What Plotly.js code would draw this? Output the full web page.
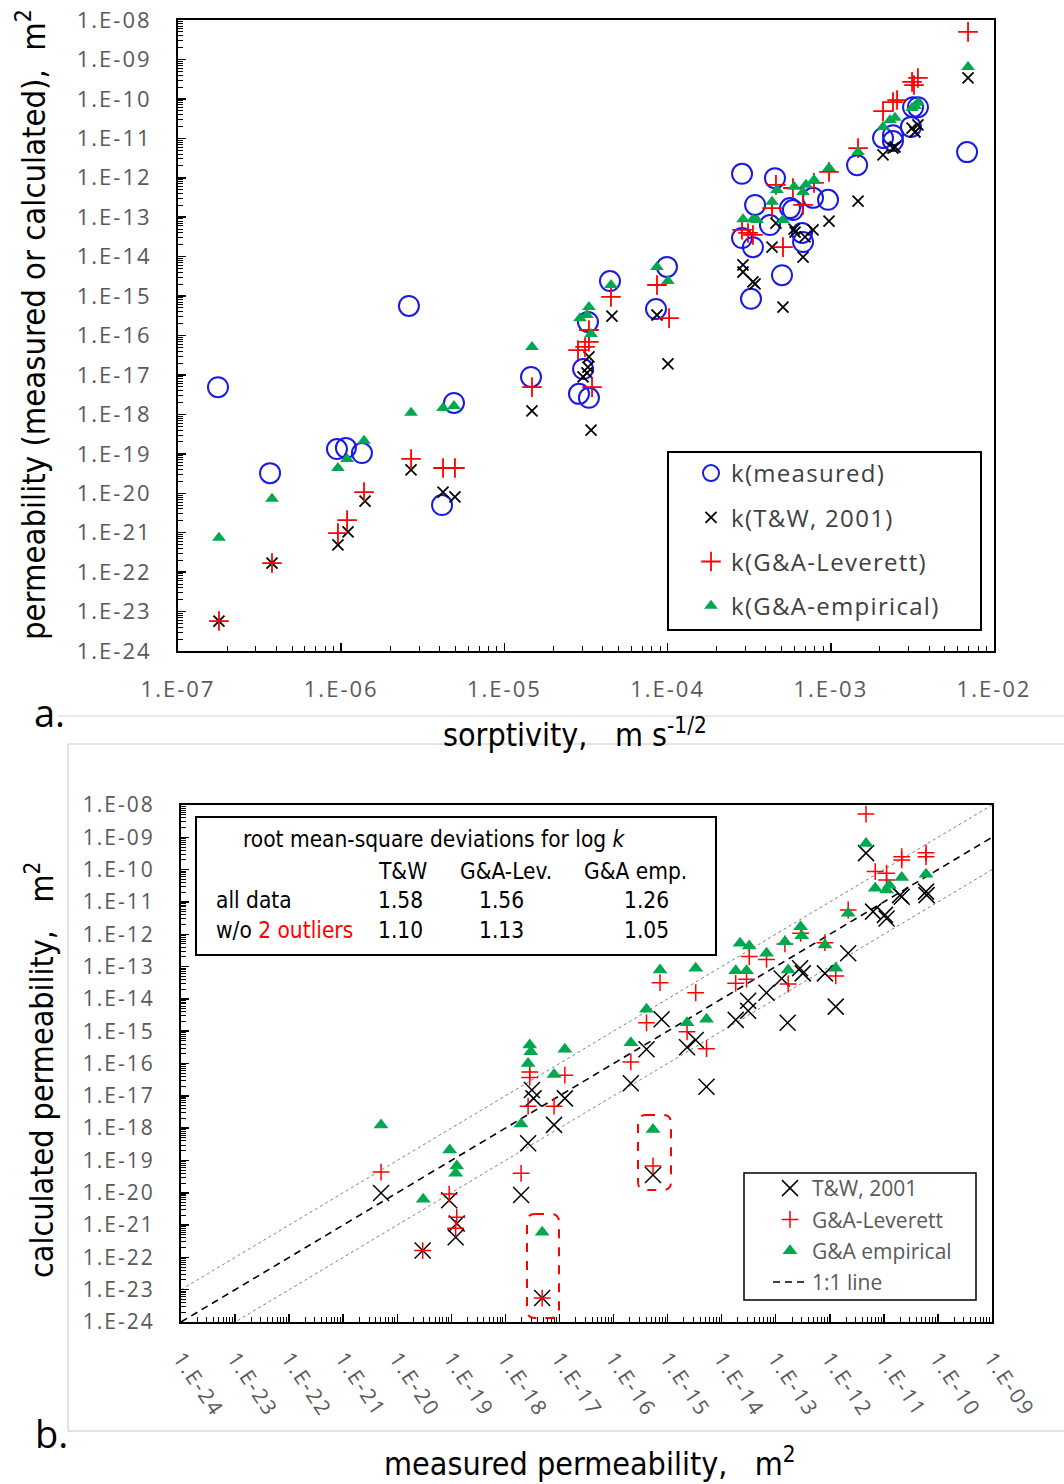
<!DOCTYPE html>
<html>
<head>
<meta charset="utf-8">
<script src="https://cdn.plot.ly/plotly-3.0.1.min.js"></script>
<style>
  html, body { margin: 0; padding: 0; background: #fff; }
  #chart { width: 1064px; height: 1484px; }
  g.xtick text, g.ytick text, g.x2tick text, g.y2tick text { letter-spacing: 2px; }
  .legendtext { letter-spacing: 1.3px; }
</style>
</head>
<body>
<div id="chart"></div>
<script>
// ---------------- DATA (values stored as log10) ----------------
// Panel a: sorptivity (m s^-1/2) vs permeability (m^2)
const aMeasLogS = [-6.755,-6.436,-6.026,-5.971,-5.873,-5.585,-5.309,-5.382,-4.837,-4.518,-4.543,-4.482,-4.488,-4.353,-4.071,-4.004,-3.544,-3.342,-3.464,-3.232,-3.109,-3.017,-2.839,-3.373,-3.544,-3.477,-3.176,-3.170,-3.299,-3.489,-2.165,-2.680,-2.619,-2.509,-2.496,-2.466,-3.250,-2.619];
const aMeasLogK = [-17.31,-19.49,-18.88,-18.85,-18.98,-15.25,-17.71,-20.30,-17.05,-16.85,-17.48,-17.58,-15.66,-14.62,-15.33,-14.26,-11.90,-12.01,-12.69,-12.82,-12.51,-12.56,-11.68,-13.20,-13.53,-13.76,-13.40,-13.63,-14.47,-15.07,-11.35,-10.99,-11.07,-10.71,-10.21,-10.21,-12.77,-10.92];

const aTWLogS = [-6.749,-6.424,-6.020,-5.958,-5.854,-5.572,-5.376,-5.303,-4.831,-4.482,-4.488,-4.518,-4.494,-4.469,-4.341,-4.065,-3.998,-3.538,-3.538,-3.477,-3.464,-3.360,-3.336,-3.225,-3.219,-3.158,-3.109,-3.011,-3.170,-3.293,-2.833,-2.159,-2.680,-2.619,-2.607,-2.502,-2.484,-2.466];
const aTWLogK = [-23.24,-21.77,-21.31,-20.98,-20.20,-19.41,-19.97,-20.09,-17.91,-16.54,-16.80,-17.05,-16.95,-18.40,-15.51,-15.48,-16.72,-14.21,-14.39,-14.64,-14.69,-13.76,-13.15,-13.30,-13.38,-13.50,-13.32,-13.10,-14.01,-15.28,-12.59,-9.47,-11.42,-11.25,-11.22,-10.74,-10.84,-10.66];

const aGALLogS = [-6.749,-6.424,-6.020,-5.964,-5.860,-5.572,-5.376,-5.303,-4.831,-4.549,-4.506,-4.482,-4.482,-4.463,-4.347,-4.065,-3.991,-3.544,-3.477,-3.507,-3.336,-3.360,-3.293,-3.170,-3.232,-3.103,-3.011,-2.833,-2.159,-2.502,-2.466,-2.490,-2.619,-2.594,-2.680];
const aGALLogK = [-23.24,-21.77,-21.01,-20.68,-19.97,-19.13,-19.36,-19.36,-17.31,-16.37,-16.29,-16.16,-15.86,-17.31,-15.02,-14.72,-15.56,-13.32,-13.45,-13.40,-12.18,-12.77,-13.76,-12.69,-12.26,-12.13,-11.85,-11.25,-8.30,-9.57,-9.47,-9.65,-10.08,-10.03,-10.31];

const aGAELogS = [-6.749,-6.424,-6.020,-5.964,-5.860,-5.572,-5.376,-5.309,-4.831,-4.537,-4.494,-4.482,-4.469,-4.347,-4.065,-3.998,-3.538,-3.477,-3.452,-3.360,-3.330,-3.293,-3.225,-3.170,-3.152,-3.103,-3.011,-2.833,-2.159,-2.502,-2.466,-2.484,-2.607,-2.637,-2.680];
const aGAELogK = [-21.13,-20.14,-19.36,-19.13,-18.67,-17.96,-17.84,-17.79,-16.29,-15.56,-15.48,-15.28,-15.96,-14.72,-14.26,-14.62,-13.05,-13.05,-13.07,-12.61,-12.31,-13.07,-12.23,-12.36,-12.18,-12.06,-11.75,-11.35,-9.19,-10.23,-10.10,-10.18,-10.48,-10.54,-10.71];

// Panel b: measured vs calculated permeability (m^2)
const bTWLogX = [-20.30,-19.53,-19.04,-18.90,-18.92,-17.71,-17.58,-17.51,-17.48,-17.10,-16.90,-17.32,-15.11,-14.28,-15.39,-15.68,-14.64,-14.48,-15.27,-13.74,-13.51,-13.51,-13.17,-12.78,-12.89,-12.55,-12.50,-12.09,-11.66,-11.89,-11.33,-11.20,-10.98,-10.95,-10.67,-10.70,-10.22,-10.21];
const bTWLogY = [-20.01,-21.79,-20.23,-20.95,-21.38,-20.07,-18.47,-16.82,-17.08,-17.90,-17.08,-23.26,-14.63,-16.72,-15.56,-16.61,-15.50,-15.27,-19.45,-14.65,-14.06,-14.37,-13.81,-14.74,-13.37,-13.05,-13.21,-13.21,-12.59,-14.24,-9.49,-11.30,-11.40,-11.51,-10.84,-10.79,-10.68,-10.79];

const bGALLogX = [-20.30,-19.53,-19.04,-18.90,-18.92,-17.71,-17.58,-17.55,-17.55,-17.10,-16.90,-17.32,-15.14,-14.48,-15.39,-15.68,-14.64,-14.28,-15.27,-13.74,-13.54,-13.49,-13.17,-12.77,-11.89,-11.33,-11.16,-10.95,-10.95,-10.67,-10.67,-10.22,-10.22,-11.66,-12.54,-12.83,-12.09];
const bGALLogY = [-19.36,-21.79,-20.04,-20.76,-21.10,-19.40,-17.32,-16.26,-16.43,-17.32,-16.36,-23.26,-13.50,-13.81,-14.74,-15.95,-15.02,-15.54,-19.17,-13.52,-13.39,-12.69,-12.78,-13.54,-13.29,-8.28,-10.06,-10.11,-10.32,-9.60,-9.70,-9.48,-9.60,-11.25,-11.97,-12.30,-12.26];

const bGAELogX = [-20.30,-19.52,-19.03,-18.90,-18.92,-17.71,-17.58,-17.55,-17.53,-17.10,-16.90,-17.32,-15.14,-14.48,-15.39,-15.68,-14.64,-14.28,-15.27,-13.74,-13.54,-13.66,-13.49,-13.17,-12.77,-11.33,-11.16,-10.95,-10.90,-10.67,-10.22,-11.66,-12.54,-12.52,-12.83,-12.09,-11.89];
const bGAELogY = [-17.90,-20.20,-18.68,-19.17,-19.40,-17.87,-16.00,-15.43,-15.64,-16.34,-15.56,-21.22,-13.11,-13.05,-14.32,-15.36,-14.74,-14.63,-18.04,-13.13,-13.13,-12.28,-12.36,-12.59,-13.11,-9.19,-10.58,-10.63,-10.48,-10.24,-10.14,-11.35,-11.77,-12.05,-12.23,-12.33,-13.05];

// 1:1 reference line ends and +/- one decade bands
const refLineX = [1e-24, 1e-9];
const bandFactor = 10;

// Tick labels
const aXTickVals = [1e-7, 1e-6, 1e-5, 1e-4, 1e-3, 1e-2];
const aXTickText = ["1.E-07","1.E-06","1.E-05","1.E-04","1.E-03","1.E-02"];
const kTickVals = [1e-8,1e-9,1e-10,1e-11,1e-12,1e-13,1e-14,1e-15,1e-16,1e-17,1e-18,1e-19,1e-20,1e-21,1e-22,1e-23,1e-24];
const kTickText = ["1.E-08","1.E-09","1.E-10","1.E-11","1.E-12","1.E-13","1.E-14","1.E-15","1.E-16","1.E-17","1.E-18","1.E-19","1.E-20","1.E-21","1.E-22","1.E-23","1.E-24"];
const bXTickVals = [1e-24,1e-23,1e-22,1e-21,1e-20,1e-19,1e-18,1e-17,1e-16,1e-15,1e-14,1e-13,1e-12,1e-11,1e-10,1e-9];
const bXTickText = ["1.E-24","1.E-23","1.E-22","1.E-21","1.E-20","1.E-19","1.E-18","1.E-17","1.E-16","1.E-15","1.E-14","1.E-13","1.E-12","1.E-11","1.E-10","1.E-09"];

// RMS deviation table
const rmsTitle = "root mean-square deviations for log <i>k</i>";
const rmsHeaders = ["T&W", "G&A-Lev.", "G&A emp."];
const rmsRowLabels = ["all data", "w/o <span style='color:#ff0000'>2 outliers</span>"];
const rmsAll = ["1.58", "1.56", "1.26"];
const rmsNoOutliers = ["1.10", "1.13", "1.05"];

// ---------------- LAYOUT HELPERS ----------------
const W = 1064, H = 1484;
const px = x => x / W;
const py = y => 1 - y / H;
const pow10 = arr => arr.map(v => Math.pow(10, v));

const BLUE = '#1a1ae6', RED = '#ff0000', GREEN = '#00a84f', BLACK = '#000000';
const TICKFONT = {family: 'Open Sans, DejaVu Sans, sans-serif', size: 22, color: '#595959'};
const NARROW = "'Liberation Sans Narrow', 'DejaVu Sans Condensed', 'Open Sans', sans-serif";
const titleFont = s => ({family: NARROW, size: s, color: '#000'});

function logAxis(domain, range, anchor, tickvals, ticktext, extra) {
  return Object.assign({
    type: 'log', domain: domain, range: range, anchor: anchor,
    tickmode: 'array', tickvals: tickvals, ticktext: ticktext,
    ticks: 'inside', ticklen: 8, tickwidth: 1.5, tickcolor: BLACK,
    minor: {ticks: 'inside', ticklen: 5, tickwidth: 1, tickcolor: BLACK, dtick: 'D1', showgrid: false},
    showline: true, linecolor: BLACK, linewidth: 2, mirror: true,
    showgrid: false, zeroline: false, tickfont: TICKFONT, automargin: false
  }, extra || {});
}

function roundedRect(x0, y0, x1, y1, r) {
  const X = v => px(v), Y = v => py(v);
  return 'M' + X(x0 + r) + ',' + Y(y0) +
    ' L' + X(x1 - r) + ',' + Y(y0) + ' Q' + X(x1) + ',' + Y(y0) + ' ' + X(x1) + ',' + Y(y0 + r) +
    ' L' + X(x1) + ',' + Y(y1 - r) + ' Q' + X(x1) + ',' + Y(y1) + ' ' + X(x1 - r) + ',' + Y(y1) +
    ' L' + X(x0 + r) + ',' + Y(y1) + ' Q' + X(x0) + ',' + Y(y1) + ' ' + X(x0) + ',' + Y(y1 - r) +
    ' L' + X(x0) + ',' + Y(y0 + r) + ' Q' + X(x0) + ',' + Y(y0) + ' ' + X(x0 + r) + ',' + Y(y0) + ' Z';
}

// ---------------- TRACES ----------------
const traces = [
  // panel a
  {type: 'scatter', mode: 'markers', name: 'k(measured)', x: pow10(aMeasLogS), y: pow10(aMeasLogK),
   xaxis: 'x', yaxis: 'y', legend: 'legend', legendgroup: 'a1',
   marker: {symbol: 'circle-open', size: 20, color: BLUE, line: {width: 2, color: BLUE}}},
  {type: 'scatter', mode: 'markers', name: 'k(T&W, 2001)', x: pow10(aTWLogS), y: pow10(aTWLogK),
   xaxis: 'x', yaxis: 'y', legend: 'legend', legendgroup: 'a2',
   marker: {symbol: 'x-thin', size: 11, color: BLACK, line: {width: 1.8, color: BLACK}}},
  {type: 'scatter', mode: 'markers', name: 'k(G&A-Leverett)', x: pow10(aGALLogS), y: pow10(aGALLogK),
   xaxis: 'x', yaxis: 'y', legend: 'legend', legendgroup: 'a3',
   marker: {symbol: 'cross-thin', size: 14, color: RED, line: {width: 1.8, color: RED}}},
  {type: 'scatter', mode: 'markers', name: 'k(G&A-empirical)', x: pow10(aGAELogS), y: pow10(aGAELogK),
   xaxis: 'x', yaxis: 'y', legend: 'legend', legendgroup: 'a4',
   marker: {symbol: 'triangle-up', size: 12, color: GREEN, line: {width: 0}}},

  // panel b reference lines
  {type: 'scatter', mode: 'lines', name: 'upper band', x: refLineX, y: refLineX.map(v => v * bandFactor),
   xaxis: 'x2', yaxis: 'y2', showlegend: false, line: {color: '#808080', width: 1, dash: 'dot'}},
  {type: 'scatter', mode: 'lines', name: 'lower band', x: refLineX, y: refLineX.map(v => v / bandFactor),
   xaxis: 'x2', yaxis: 'y2', showlegend: false, line: {color: '#808080', width: 1, dash: 'dot'}},
  {type: 'scatter', mode: 'lines', name: '1:1 line', x: refLineX, y: refLineX,
   xaxis: 'x2', yaxis: 'y2', legend: 'legend2', legendgroup: 'b4', legendrank: 4,
   line: {color: BLACK, width: 1.6, dash: '7px,5px'}},

  // panel b markers
  {type: 'scatter', mode: 'markers', name: 'T&W, 2001', x: pow10(bTWLogX), y: pow10(bTWLogY),
   xaxis: 'x2', yaxis: 'y2', legend: 'legend2', legendgroup: 'b1', legendrank: 1,
   marker: {symbol: 'x-thin', size: 16, color: BLACK, line: {width: 1.5, color: BLACK}}},
  {type: 'scatter', mode: 'markers', name: 'G&A-Leverett', x: pow10(bGALLogX), y: pow10(bGALLogY),
   xaxis: 'x2', yaxis: 'y2', legend: 'legend2', legendgroup: 'b2', legendrank: 2,
   marker: {symbol: 'cross-thin', size: 12, color: RED, line: {width: 1.5, color: RED}}},
  {type: 'scatter', mode: 'markers', name: 'G&A empirical', x: pow10(bGAELogX), y: pow10(bGAELogY),
   xaxis: 'x2', yaxis: 'y2', legend: 'legend2', legendgroup: 'b3', legendrank: 3,
   marker: {symbol: 'triangle-up', size: 13, color: GREEN, line: {width: 0}}}
];

// ---------------- ANNOTATIONS ----------------
const ann = [];
function txt(text, x, y, opts) {
  ann.push(Object.assign({text: text, x: px(x), y: py(y), xref: 'paper', yref: 'paper',
    showarrow: false, xanchor: 'left', yanchor: 'middle'}, opts || {}));
}
// axis titles
txt('permeability (measured or calculated),  m<sup>2</sup>', 32, 325, {xanchor: 'center', textangle: -90, font: titleFont(32.5)});
txt('sorptivity,   m s<sup>-1/2</sup>', 575, 733, {xanchor: 'center', font: titleFont(32)});
txt('calculated permeability,   m<sup>2</sup>', 40, 1070, {xanchor: 'center', textangle: -90, font: titleFont(32)});
txt('measured permeability,   m<sup>2</sup>', 590, 1462, {xanchor: 'center', font: titleFont(32)});
// panel labels
txt('a.', 49, 712, {xanchor: 'center', font: {family: 'Open Sans, sans-serif', size: 38, color: '#000'}});
txt('b.', 51, 1433, {xanchor: 'center', font: {family: 'Open Sans, sans-serif', size: 38, color: '#000'}});
// table
const TF = {family: NARROW, size: 22.5, color: '#000'};
txt(rmsTitle, 241, 839, {font: TF});
const colX = [376, 458, 582];
const valX = [376, 477, 622];
rmsHeaders.forEach((h, i) => txt(h, colX[i], 871, {font: TF}));
txt(rmsRowLabels[0], 214, 900, {font: TF});
txt(rmsRowLabels[1], 214, 930, {font: TF});
rmsAll.forEach((v, i) => txt(v, valX[i], 900, {font: TF}));
rmsNoOutliers.forEach((v, i) => txt(v, valX[i], 930, {font: TF}));

// ---------------- SHAPES ----------------
const shapes = [
  // light gray frames of the figure panels
  {type: 'line', xref: 'paper', yref: 'paper', x0: px(58), x1: px(1064), y0: py(716), y1: py(716), line: {color: '#d4d4d4', width: 1}},
  {type: 'rect', xref: 'paper', yref: 'paper', x0: px(68), x1: px(1070), y0: py(744), y1: py(1431), line: {color: '#c8c8c8', width: 1}},
  // legend boxes and table box
  {type: 'rect', xref: 'paper', yref: 'paper', x0: px(668), x1: px(981), y0: py(452), y1: py(630), line: {color: BLACK, width: 2}, fillcolor: '#fff', layer: 'below'},
  {type: 'rect', xref: 'paper', yref: 'paper', x0: px(744), x1: px(976), y0: py(1173), y1: py(1300), line: {color: BLACK, width: 1.5}, fillcolor: '#fff', layer: 'below'},
  {type: 'rect', xref: 'paper', yref: 'paper', x0: px(196), x1: px(716), y0: py(817), y1: py(955), line: {color: BLACK, width: 2}, fillcolor: '#fff', layer: 'below'},
  // outlier highlight boxes
  {type: 'path', xref: 'paper', yref: 'paper', path: roundedRect(527, 1214, 559, 1318, 8), line: {color: RED, width: 2, dash: 'dash'}},
  {type: 'path', xref: 'paper', yref: 'paper', path: roundedRect(638, 1115, 671, 1190, 8), line: {color: RED, width: 2, dash: 'dash'}}
];

// ---------------- LAYOUT ----------------
const layout = {
  width: W, height: H, autosize: false,
  margin: {l: 0, r: 0, t: 0, b: 0, pad: 0},
  paper_bgcolor: '#ffffff', plot_bgcolor: 'rgba(0,0,0,0)',
  showlegend: true,
  xaxis: logAxis([px(178), px(994)], [-7, -2], 'y', aXTickVals, aXTickText, {ticklabelstandoff: 18}),
  yaxis: logAxis([py(651), py(20)], [-24, -8], 'x', kTickVals, kTickText, {ticklabelstandoff: 20}),
  xaxis2: logAxis([px(181), px(992)], [-24, -9], 'y2', bXTickVals, bXTickText, {tickangle: 56, ticklabelstandoff: 14, tickfont: Object.assign({}, TICKFONT, {size: 21})}),
  yaxis2: logAxis([py(1322), py(805)], [-24, -8], 'x2', kTickVals, kTickText, {ticklabelstandoff: 20, tickfont: Object.assign({}, TICKFONT, {size: 21})}),
  legend: {x: px(691), y: py(451), xanchor: 'left', yanchor: 'top', bgcolor: 'rgba(0,0,0,0)', borderwidth: 0,
           font: {family: 'Open Sans, sans-serif', size: 24, color: '#404040'}, tracegroupgap: 10, itemwidth: 30},
  legend2: {x: px(768), y: py(1168), xanchor: 'left', yanchor: 'top', bgcolor: 'rgba(0,0,0,0)', borderwidth: 0,
            font: {family: 'Open Sans, sans-serif', size: 21, color: '#595959'}, tracegroupgap: 1, itemwidth: 34},
  annotations: ann,
  shapes: shapes
};

Plotly.newPlot('chart', traces, layout, {displayModeBar: false, staticPlot: true});
</script>
</body>
</html>
